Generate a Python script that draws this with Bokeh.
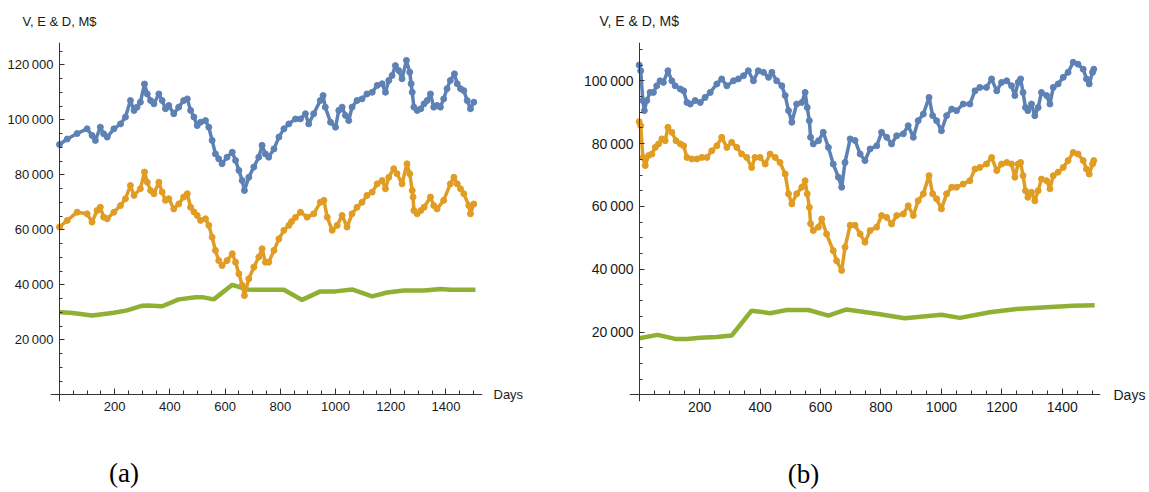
from bokeh.plotting import figure
from bokeh.layouts import row
from bokeh.models import FixedTicker, LinearAxis, Range1d
from bokeh.embed import file_html
from bokeh.resources import INLINE

# ---------------- data : panel (a) ----------------
a_v_days = [0, 28, 64, 100, 118, 130, 148, 160, 173, 197, 221, 239, 257, 270, 281, 293, 308, 318, 330, 342,
            360, 372, 384, 396, 414, 432, 450, 463, 475, 487, 499, 511, 529, 541, 553, 565, 577, 589, 607, 626,
            638, 650, 662, 670, 686, 704, 722, 734, 746, 758, 777, 795, 813, 831, 855, 873, 891, 903, 921, 945,
            955, 963, 982, 1000, 1012, 1024, 1036, 1048, 1060, 1078, 1096, 1114, 1133, 1151, 1169, 1181, 1193,
            1205, 1217, 1229, 1241, 1257, 1269, 1274, 1278, 1284, 1296, 1309, 1321, 1332, 1344, 1356, 1368,
            1380, 1392, 1404, 1416, 1431, 1441, 1453, 1465, 1477, 1489, 1501]
a_v = [91000, 93000, 95000, 96700, 94300, 92500, 97300, 94900, 93700, 96700, 98500, 101000, 107000, 103400,
       104600, 106400, 113000, 109400, 107000, 105800, 109400, 107000, 104000, 105200, 102200, 104600, 107000,
       107600, 103400, 101000, 97900, 99100, 99700, 97300, 92500, 87600, 85800, 84000, 86400, 88200, 85200,
       81600, 77900, 74300, 79100, 82800, 86400, 90700, 87600, 86400, 89400, 93700, 96700, 98500, 100300,
       100300, 102200, 98500, 102200, 107000, 108800, 104600, 99100, 97300, 103400, 104600, 101600, 99700,
       104600, 107000, 107600, 109400, 110000, 112500, 113100, 110000, 114300, 116100, 119700, 117900, 114900,
       121600, 117300, 113100, 110000, 104600, 103400, 104000, 105800, 107000, 109400, 104600, 105200, 104600,
       107600, 111300, 114300, 116700, 113100, 111300, 110600, 107000, 104000, 106400]

a_e_days = [0, 28, 64, 100, 118, 136, 148, 160, 173, 197, 221, 239, 257, 270, 293, 308, 318, 330, 342, 360,
            372, 384, 396, 414, 432, 450, 463, 475, 487, 499, 511, 529, 541, 553, 565, 577, 589, 607, 626, 638,
            650, 662, 670, 686, 704, 722, 734, 746, 758, 777, 795, 813, 831, 841, 855, 873, 897, 921, 945, 958,
            970, 988, 1006, 1024, 1042, 1060, 1078, 1096, 1114, 1133, 1151, 1169, 1181, 1193, 1211, 1223, 1241,
            1259, 1269, 1278, 1281, 1284, 1296, 1309, 1321, 1344, 1356, 1368, 1392, 1416, 1429, 1441, 1453,
            1465, 1483, 1489, 1501]
a_e = [61000, 63400, 66400, 65800, 62800, 67000, 68200, 64600, 64000, 66400, 68800, 71300, 76100, 72500,
       74900, 81000, 77300, 74300, 73100, 77300, 73700, 70700, 71300, 67600, 69400, 71900, 73100, 68200,
       66500, 65200, 63400, 64000, 61600, 57300, 52500, 48800, 47000, 48800, 51300, 48200, 44000, 39800,
       36100, 42200, 46400, 50100, 53100, 48200, 48200, 52500, 56700, 59800, 61600, 63000, 64500, 66400,
       64600, 65800, 70000, 70700, 64600, 59800, 61600, 65200, 61000, 65800, 68200, 70000, 72500, 73700,
       76700, 77900, 74900, 79100, 82200, 80400, 76700, 84000, 80400, 74300, 71900, 67000, 65800, 67000,
       68200, 71900, 68800, 67600, 70700, 76700, 79100, 76700, 74900, 73100, 68800, 65800, 69400]

a_d_days = [0, 40, 118, 148, 197, 245, 300, 318, 372, 432, 493, 517, 559, 626, 680, 704, 813, 879, 945,
            1000, 1060, 1133, 1187, 1248, 1321, 1381, 1417, 1507]
a_d = [30000, 29800, 28800, 29200, 29800, 30700, 32400, 32500, 32200, 34700, 35500, 35500, 34700, 40000,
       38300, 38200, 38200, 34500, 37600, 37600, 38300, 35800, 37200, 37900, 37900, 38500, 38200, 38200]

# ---------------- data : panel (b) ----------------
b_v_days = [0, 5, 12, 17, 25, 36, 47, 58, 69, 80, 95, 108, 119, 136, 147, 158, 169, 185, 202, 218, 235, 257,
            273, 290, 312, 328, 345, 361, 378, 394, 411, 428, 439, 455, 472, 483, 494, 505, 521, 538, 549, 556,
            563, 567, 576, 593, 609, 626, 642, 659, 670, 681, 698, 714, 731, 747, 764, 786, 802, 819, 835, 852,
            874, 890, 907, 923, 940, 959, 971, 984, 1000, 1017, 1034, 1050, 1072, 1094, 1111, 1127, 1149, 1166,
            1183, 1199, 1216, 1232, 1243, 1254, 1262, 1270, 1278, 1286, 1298, 1309, 1320, 1331, 1348, 1359,
            1370, 1386, 1403, 1419, 1436, 1452, 1469, 1480, 1489, 1500, 1504]
b_v = [105000, 103200, 93700, 90500, 93700, 96300, 96300, 98400, 100000, 99500, 103200, 100000, 98400, 97400,
       96800, 93100, 92600, 93700, 93100, 94700, 96300, 99000, 100600, 98400, 100000, 100600, 101600, 103200,
       100000, 103200, 102700, 101100, 102700, 100000, 98400, 95300, 90500, 86800, 92600, 93100, 96300, 91500,
       87300, 82000, 79900, 80900, 83600, 78800, 73500, 69300, 66100, 74000, 81500, 81000, 76700, 74600, 78300,
       79300, 83600, 82000, 79900, 82500, 83100, 85700, 82000, 87300, 89400, 94700, 88900, 87300, 84100, 88900,
       91000, 90500, 92600, 92600, 96800, 97900, 97900, 100600, 96800, 99500, 100000, 98400, 95300, 99500,
       100600, 96300, 91500, 90500, 92600, 88900, 91500, 96300, 95300, 92600, 97900, 99000, 101100, 102700,
       105900, 105300, 103700, 100600, 99000, 102700, 103700]

b_e_days = [0, 5, 12, 20, 31, 42, 53, 64, 75, 86, 95, 108, 122, 136, 147, 158, 174, 191, 207, 224, 240, 257,
            273, 290, 306, 323, 339, 356, 372, 383, 400, 417, 433, 450, 466, 483, 494, 505, 521, 538, 549, 556,
            563, 567, 576, 593, 604, 620, 642, 653, 670, 681, 698, 714, 731, 747, 764, 786, 802, 819, 835, 852,
            874, 890, 907, 923, 940, 959, 971, 984, 1000, 1017, 1034, 1050, 1072, 1094, 1111, 1127, 1149, 1166,
            1183, 1199, 1216, 1232, 1243, 1254, 1262, 1270, 1278, 1286, 1298, 1309, 1320, 1331, 1348, 1359,
            1370, 1386, 1403, 1419, 1436, 1452, 1469, 1480, 1489, 1500, 1504]
b_e = [87000, 85700, 75600, 73000, 76200, 76700, 78800, 79900, 81500, 80900, 85200, 83600, 80900, 79900, 79300,
       75600, 75100, 75100, 75600, 75600, 77700, 79300, 82000, 78800, 80400, 78800, 76700, 75600, 72400, 75600,
       75600, 73500, 76700, 75600, 74000, 70300, 64000, 60800, 64000, 66100, 68200, 64000, 59700, 54500, 52300,
       53400, 56000, 51200, 45900, 42700, 39600, 47000, 54000, 54000, 51200, 48600, 52300, 53400, 57100, 56500,
       54400, 57100, 57600, 60200, 57100, 61800, 64000, 69800, 64000, 62400, 59200, 64000, 66100, 66100, 67100,
       68200, 71900, 72400, 73500, 75600, 71400, 73500, 74000, 73500, 69300, 73500, 74000, 69800, 65000, 62900,
       64500, 61800, 65000, 68700, 68200, 65600, 69800, 70900, 72400, 74600, 77200, 76700, 74600, 71900, 70300,
       73500, 74600]

b_d_days = [0, 61, 119, 158, 202, 257, 306, 372, 433, 488, 560, 626, 686, 786, 879, 1000, 1061, 1160, 1249,
            1348, 1436, 1507]
b_d = [18000, 19100, 17800, 17800, 18200, 18400, 18900, 26800, 26000, 27000, 27000, 25200, 27200, 25800,
       24400, 25500, 24500, 26300, 27300, 27900, 28400, 28500]

# ---------------- ticks & texts ----------------
x_ticks = [200, 400, 600, 800, 1000, 1200, 1400]
x_minor = list(range(0, 1501, 50))
a_y_ticks = [20000, 40000, 60000, 80000, 100000, 120000]
a_y_labels = ["20\u2009000", "40\u2009000", "60\u2009000", "80\u2009000", "100\u2009000", "120\u2009000"]
b_y_ticks = [20000, 40000, 60000, 80000, 100000]
b_y_labels = ["20\u2009000", "40\u2009000", "60\u2009000", "80\u2009000", "100\u2009000"]
y_minor_a = list(range(5000, 125001, 5000))
y_minor_b = list(range(5000, 110001, 5000))
y_axis_title = "V, E & D, M$"
x_axis_title = "Days"

BLUE = "#5E81B5"
ORANGE = "#E19C24"
GREEN = "#8FB032"
AXIS = "#333333"
TEXT = "#1a1a1a"


def text_axis(p, side, tick, label, font, size, standoff, color=TEXT):
    ax = LinearAxis(ticker=FixedTicker(ticks=[tick], minor_ticks=[]),
                    major_label_overrides={tick: label})
    ax.axis_line_color = None
    ax.major_tick_line_color = None
    ax.minor_tick_line_color = None
    ax.major_tick_out = 0
    ax.major_tick_in = 0
    ax.major_label_standoff = standoff
    ax.major_label_text_font = font
    ax.major_label_text_font_size = size
    ax.major_label_text_color = color
    p.add_layout(ax, side)


def line_axis(p, side, positions, tick_len, show_line):
    # axis line / tick marks crossing at the origin; labels are carried by the edge axes,
    # so this axis has no major ticks (hence no labels) and draws its marks as minor ticks
    ax = LinearAxis(ticker=FixedTicker(ticks=[], minor_ticks=positions), fixed_location=0)
    ax.axis_line_color = AXIS if show_line else None
    ax.major_tick_line_color = None
    ax.minor_tick_line_color = AXIS
    ax.major_tick_out = 0
    ax.major_tick_in = 0
    ax.minor_tick_out = 0
    ax.minor_tick_in = tick_len
    ax.major_label_standoff = 0
    p.add_layout(ax, side)


def panel(vd, v, ed, e, dd, d, width, borders, xr, yr, yt, yl, ym, fs, tag, tag_day,
          days_off, ylab_off, tag_off):
    left, right = borders
    p = figure(width=width, height=492, x_range=Range1d(*xr), y_range=Range1d(*yr),
               output_backend="svg", toolbar_location=None, title=None,
               min_border_left=left, min_border_right=right, min_border_top=42, min_border_bottom=91)
    p.grid.visible = False
    p.outline_line_color = None
    p.background_fill_color = "white"
    p.border_fill_color = "white"

    p.line(dd, d, color=GREEN, line_width=4.5)
    p.line(ed, e, color=ORANGE, line_width=3.5)
    p.scatter(ed, e, size=6, color=ORANGE)
    p.line(vd, v, color=BLUE, line_width=3.5)
    p.scatter(vd, v, size=6, color=BLUE)

    p.xaxis.ticker = FixedTicker(ticks=x_ticks, minor_ticks=[])
    p.yaxis.ticker = FixedTicker(ticks=yt, minor_ticks=[])
    p.yaxis.major_label_overrides = {t: s for t, s in zip(yt, yl)}
    for ax in (p.xaxis, p.yaxis):
        ax.axis_line_color = None
        ax.major_tick_line_color = None
        ax.minor_tick_line_color = None
        ax.major_tick_out = 0
        ax.minor_tick_out = 0
        ax.major_tick_in = 0
        ax.minor_tick_in = 0
        ax.major_label_text_font = "Liberation Sans"
        ax.major_label_text_font_size = fs
        ax.major_label_text_color = TEXT
    p.xaxis.major_label_standoff = 0
    p.yaxis.major_label_standoff = ylab_off

    line_axis(p, "below", x_ticks, 6, True)
    line_axis(p, "below", [t for t in x_minor if t not in x_ticks], 4, False)
    line_axis(p, "left", yt, 5, True)
    line_axis(p, "left", [t for t in ym if t not in yt], 3, False)

    text_axis(p, "above", 0, y_axis_title, "Liberation Sans", fs, 14)
    text_axis(p, "right", 0, x_axis_title, "Liberation Sans", fs, days_off)
    text_axis(p, "below", tag_day, tag, "Liberation Serif", "27px", tag_off, "black")
    return p


pa = panel(a_v_days, a_v, a_e_days, a_e, a_d_days, a_d, 574, (50, 92), (-32.6, 1532.6), (-2440, 128100),
           a_y_ticks, a_y_labels, y_minor_a, "13px", "(a)", 233.7, 11, -3, 44)
pb = panel(b_v_days, b_v, b_e_days, b_e, b_d_days, b_d, 575, (55, 49), (-32.1, 1526.3), (-2130, 112200),
           b_y_ticks, b_y_labels, y_minor_b, "14px", "(b)", 543.8, 13, -4, 44)

layout = row(pa, pb)
open("out.html", "w").write(file_html(layout, INLINE))
